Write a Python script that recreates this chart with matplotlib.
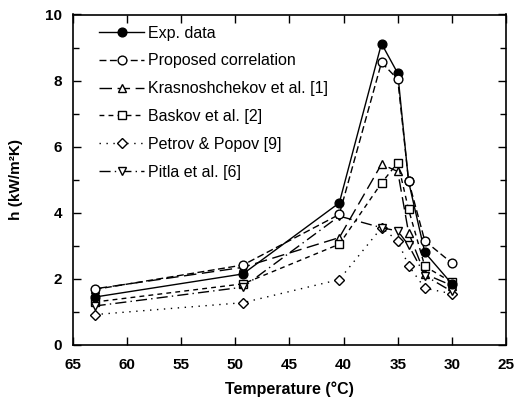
import matplotlib
matplotlib.use("Agg")
import matplotlib.pyplot as plt
from matplotlib.ticker import MultipleLocator

plt.rcParams['font.family'] = ['Liberation Sans', 'DejaVu Sans']

temperature = [63, 49.3, 40.4, 36.5, 35, 34, 32.5, 30]
exp_data = [1.45, 2.15, 4.3, 9.12, 8.22, 4.95, 2.8, 1.85]
proposed = [1.68, 2.42, 3.95, 8.55, 8.04, 4.97, 3.15, 2.48]
krasnoshchekov = [1.7, 2.35, 3.25, 5.47, 5.25, 3.4, 2.15, 1.8]
baskov = [1.3, 1.85, 3.05, 4.9, 5.52, 4.1, 2.38, 1.9]
petrov = [0.92, 1.28, 1.98, 3.55, 3.15, 2.4, 1.72, 1.55]
pitla = [1.18, 1.75, 3.9, 3.55, 3.45, 3.02, 2.1, 1.62]

labels = ["Exp. data", "Proposed correlation", "Krasnoshchekov et al. [1]",
          "Baskov et al. [2]", "Petrov & Popov [9]", "Pitla et al. [6]"]
x_ticks = [65, 60, 55, 50, 45, 40, 35, 30, 25]
y_ticks = [0, 2, 4, 6, 8, 10]

fig = plt.figure(figsize=(5.15, 4.05), dpi=100)
ax = fig.add_axes([73/515, 60/405, 433/515, 330.5/405])

ms = 6.3
lw = 1.0
ax.plot(temperature, krasnoshchekov, color='black', lw=lw, dashes=(9, 4),
        marker='^', ms=ms, mfc='white', mec='black', label=labels[2], zorder=2)
ax.plot(temperature, baskov, color='black', lw=lw, dashes=(3.5, 3),
        marker='s', ms=ms, mfc='white', mec='black', label=labels[3], zorder=2)
ax.plot(temperature, petrov, color='black', lw=lw, dashes=(1, 4),
        marker='D', ms=ms-1.7, mfc='white', mec='black', label=labels[4], zorder=2)
ax.plot(temperature, pitla, color='black', lw=lw, dashes=(8, 3, 1, 3),
        marker='v', ms=ms, mfc='white', mec='black', label=labels[5], zorder=2)
ax.plot(temperature, exp_data, color='black', lw=lw, linestyle='-',
        marker='o', ms=ms, mfc='black', mec='black', label=labels[0], zorder=3)
ax.plot(temperature, proposed, color='black', lw=lw, dashes=(5, 2.5),
        marker='o', ms=ms, mfc='white', mec='black', label=labels[1], zorder=4)

ax.set_xlim(65, 25)
ax.set_ylim(0, 10)
ax.set_xticks(x_ticks)
ax.set_yticks(y_ticks)
ax.yaxis.set_minor_locator(MultipleLocator(1))
ax.tick_params(which='both', direction='in', top=True, right=True,
               labelsize=11, width=1.0)
ax.tick_params(which='major', length=6)
ax.tick_params(which='minor', length=4)
ax.tick_params(axis='x', which='major', pad=9.5)
ax.tick_params(axis='y', which='major', pad=8)
for s in ax.spines.values():
    s.set_linewidth(1.2)
for lab in ax.get_xticklabels() + ax.get_yticklabels():
    lab.set_fontweight('bold')

ax.set_xlabel("Temperature (°C)", fontsize=11.5, fontweight='bold', labelpad=7)
ax.set_ylabel("h (kW/m²K)", fontsize=11, fontweight='bold', labelpad=16)

handles, labs = ax.get_legend_handles_labels()
order = [labs.index(l) for l in labels]
ax.legend([handles[i] for i in order], [labs[i] for i in order],
          loc='upper left', frameon=False, fontsize=11.5, handlelength=2.8,
          labelspacing=0.8, handletextpad=0.25, borderaxespad=0.3,
          bbox_to_anchor=(0.035, 1.0))

fig.savefig("out.png", dpi=100)
